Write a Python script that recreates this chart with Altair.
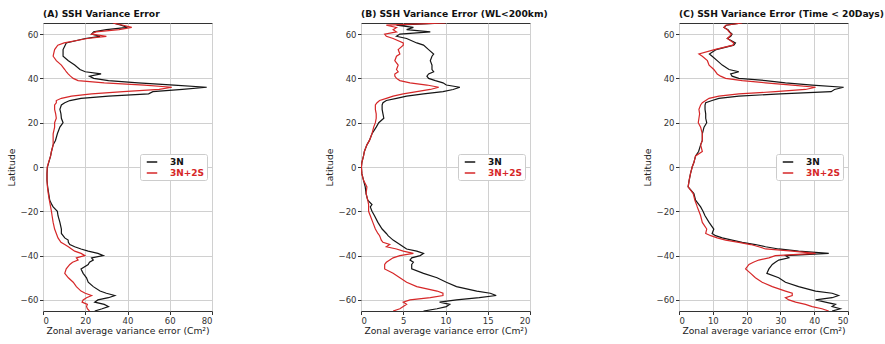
import altair as alt
import pandas as pd

LAT = [65, 64, 63, 62, 61, 60, 59, 58, 56, 55,
       53, 51, 50, 48, 46, 44, 43, 42, 41, 40,
       39, 38, 37, 36, 35, 34, 33, 32, 31, 30,
       29, 28, 26, 24, 22, 20, 18, 15, 12, 10,
       7, 5, 2, 0, -3, -6, -9, -12, -15, -17,
       -18, -20, -22, -25, -28, -30, -31, -32, -33, -34,
       -35, -36, -37, -38, -39, -40, -41, -42, -43, -44,
       -46, -48, -50, -52, -54, -56, -57, -58, -59, -60,
       -61, -62, -63, -64, -65]

A_3N = [33, 37, 40, 30, 24, 23, 27, 20, 11, 10.5,
        9.5, 9.5, 9.5, 12, 15, 17.5, 20, 27.5, 22, 24,
        31, 45, 62, 77.5, 66, 52, 50, 31, 18, 12.7,
        10.3, 8.7, 8, 8.5, 8.7, 9.5, 8, 6.8, 5.9, 4.8,
        4, 3.6, 2.7, 2.1, 1.9, 1.9, 2.2, 2.7, 3.2, 4.2,
        4.8, 6.8, 7.1, 8, 8.7, 8.7, 9.5, 10.3, 11.9, 12,
        12.7, 15, 18, 21.4, 26, 28.5, 23, 23.8, 22, 21.4,
        18, 19, 20.6, 21.4, 23.8, 27, 30, 34, 31, 26,
        24.5, 29, 31, 28, 24.5]
A_3N2S = [33, 38, 42, 36, 25, 23, 30, 21, 10, 7,
          5.5, 5, 4.8, 6.3, 8.7, 10.3, 11, 11.9, 13, 14.3,
          16.6, 29, 48, 61, 55, 38, 23, 13.5, 8.7, 6.3,
          6.3, 5.5, 5.5, 6, 6.3, 5.5, 5.5, 4.8, 4.8, 4.8,
          4, 3.6, 2.6, 2.0, 1.9, 1.9, 2.1, 2.5, 3.0, 3.4,
          3.6, 4, 4.3, 4.8, 5.5, 6.3, 6.7, 7.1, 7.8, 8.5,
          10.3, 12, 13.5, 15, 18, 19.8, 15.8, 16.6, 14, 12.7,
          11, 10.3, 12, 14.3, 15.8, 18, 20, 23, 20.6, 19,
          18.5, 21, 20.6, 21, 22]

B_3N = [10, 4.2, 6.2, 5.4, 8.2, 4.6, 4.2, 5.4, 6.6, 7.4,
        8, 8.6, 8.4, 8.2, 8.4, 8.4, 8.6, 8, 7.8, 8,
        8.8, 9.7, 10.1, 11.7, 10.9, 9.7, 7.4, 5.4, 4.2, 3,
        2.6, 2.5, 2.5, 2.6, 2.7, 2.1, 1.8, 1.3, 1.0, 0.7,
        0.4, 0.3, 0.1, 0.05, 0.1, 0.3, 0.5, 0.6, 0.8, 1.3,
        1.1, 1.3, 1.6, 2.0, 2.5, 3.0, 3.2, 3.5, 3.8, 4.2,
        4.6, 5.0, 5.4, 6.6, 7.4, 7, 6, 5.8, 6.2, 6.0,
        6, 7.4, 9, 10.1, 11.3, 13.7, 15.3, 16, 14, 11.3,
        9.3, 10.5, 10.1, 9, 7.4]
B_3N2S = [10, 3, 4.2, 3.8, 4.2, 2.8, 3, 3.8, 5, 5,
          4.4, 4.6, 4.2, 4, 4.4, 4.2, 4.4, 4.0, 4, 4.2,
          4.6, 5.8, 7.8, 9.2, 8.2, 6.6, 5, 3.8, 3, 2.2,
          1.9, 1.7, 1.7, 1.8, 1.8, 1.7, 1.5, 1.3, 1.0, 0.7,
          0.4, 0.3, 0.1, 0.05, 0.1, 0.3, 0.7, 0.6, 0.8, 0.9,
          0.9, 0.9, 1.1, 1.4, 1.7, 2.0, 2.2, 2.3, 2.4, 2.6,
          3.4, 3.0, 4.2, 5, 6.2, 4.6, 3.8, 3.4, 3, 2.8,
          2.8, 3.8, 4.6, 5.4, 6.6, 9, 9.7, 9.7, 8.2, 5.8,
          5, 5.4, 5, 4.6, 3.8]

C_3N = [18.7, 14, 13.3, 14.5, 15, 15.7, 15.3, 14.3, 16.7, 16.2,
        11, 9, 9.8, 11.3, 12.8, 14.8, 17.7, 15.3, 15.7, 17.7,
        25.6, 31.5, 39.4, 48.7, 46, 45, 30, 17.7, 11.8, 9.8,
        7.9, 7.7, 7.7, 7.9, 7.9, 8.2, 7.4, 6.9, 6.9, 6.4,
        5.8, 4.9, 4.4, 3.9, 3.4, 3.0, 2.7, 4.4, 4.9, 5.9,
        6.4, 7.1, 7.7, 8.9, 10.3, 9.8, 10.8, 12.8, 15.7, 18.7,
        22.6, 25.6, 29.5, 35.4, 44.3, 31.5, 32.5, 29.5, 28.5, 27.6,
        26.6, 26, 29.5, 31.5, 35.4, 40.4, 45.3, 47.2, 45.3, 40.4,
        43.3, 46.3, 45.3, 47.7, 45.3]
C_3N2S = [18.7, 13.8, 13.3, 14.3, 14.8, 15.5, 15, 14.3, 16.2, 16,
          10.5, 5.9, 6.9, 8.4, 8.9, 10.3, 10.8, 11.3, 12.3, 13.8,
          18.7, 25.6, 33.5, 40.4, 37.4, 28.5, 17.7, 11.8, 8.9, 7.9,
          6.9, 6.4, 5.9, 6.1, 5.9, 5.7, 6.4, 6.9, 6.9, 6.4,
          6.9, 4.9, 4.4, 3.9, 3.4, 3.0, 2.7, 4.2, 4.7, 5.2,
          5.4, 5.9, 6.4, 6.9, 8.2, 7.9, 9.4, 11.3, 13.8, 17.7,
          21.2, 23.6, 25.6, 33.5, 40.4, 28.5, 26.6, 23.6, 22, 20.7,
          19.7, 21.2, 22.6, 24.6, 27.6, 31.5, 33.5, 33.5, 31.5, 32.5,
          34.5, 37.4, 39.4, 42.3, 44.3]

SERIES = ["3N", "3N+2S"]
COLORS = ["#151515", "#d62728"]
Y_TICKS = [-60, -40, -20, 0, 20, 40, 60]

PANELS = [
    ("(A) SSH Variance Error", A_3N, A_3N2S, [0, 80], [0, 20, 40, 60, 80]),
    ("(B) SSH Variance Error (WL<200km)", B_3N, B_3N2S, [0, 20], [0, 5, 10, 15, 20]),
    ("(C) SSH Variance Error (Time < 20Days)", C_3N, C_3N2S, [0, 50], [0, 10, 20, 30, 40, 50]),
]

FONT = "DejaVu Sans"


def panel(title, s1, s2, xdom, xticks):
    n = len(LAT)
    df = pd.DataFrame({
        "lat": LAT + LAT,
        "val": s1 + s2,
        "series": [SERIES[0]] * n + [SERIES[1]] * n,
    })
    return alt.Chart(df).mark_line(strokeWidth=1.2, clip=True).encode(
        x=alt.X("val:Q", scale=alt.Scale(domain=xdom, nice=False, zero=False),
                axis=alt.Axis(values=xticks, format="d",
                              title="Zonal average variance error (Cm²)")),
        y=alt.Y("lat:Q", scale=alt.Scale(domain=[-65, 65], nice=False, zero=False),
                axis=alt.Axis(values=Y_TICKS, format="d", title="Latitude")),
        color=alt.Color("series:N", sort=SERIES,
                        scale=alt.Scale(domain=SERIES, range=COLORS),
                        legend=alt.Legend(
                            title=None, orient="none", legendX=97, legendY=131,
                            symbolType="stroke", symbolStrokeWidth=1.5, symbolSize=110,
                            symbolOffset=4,
                            labelFontWeight="bold", labelFontSize=9, labelFont=FONT,
                            labelExpr="datum.label + '  '",
                            padding=2, strokeColor="#cccccc", fillColor="white",
                            cornerRadius=2, rowPadding=0, labelOffset=12,
                            labelColor={"expr": "datum.value === '3N+2S' ? '#d62728' : '#151515'"},
                        )),
        order=alt.Order("lat:Q"),
    ).properties(
        width=169, height=288,
        title=alt.TitleParams(text=title, anchor="start", frame="group", fontSize=9.2,
                              fontWeight="bold", font=FONT, color="#111111", offset=4),
    )


charts = [panel(*p) for p in PANELS]

chart = alt.hconcat(*charts, spacing=149, bounds="flush").resolve_scale(
    color="independent"
).resolve_legend(color="independent").properties(
    padding={"left": 6, "top": 9, "right": 0, "bottom": 0}
).configure(
    font=FONT, background="white"
).configure_view(
    stroke="#333333", strokeWidth=1
).configure_axis(
    labelFont=FONT, titleFont=FONT, labelFontSize=8.5, titleFontSize=9.2,
    labelColor="#333333", titleColor="#222222", titleFontWeight="normal",
    grid=True, gridColor="#d0d0d0", gridWidth=1,
    domain=False, tickColor="#333333", tickSize=3.5, labelPadding=1.5,
).configure_axisY(titlePadding=4).configure_axisX(titlePadding=2)

chart.save("out.html", embed_options={"renderer": "svg", "actions": False})
